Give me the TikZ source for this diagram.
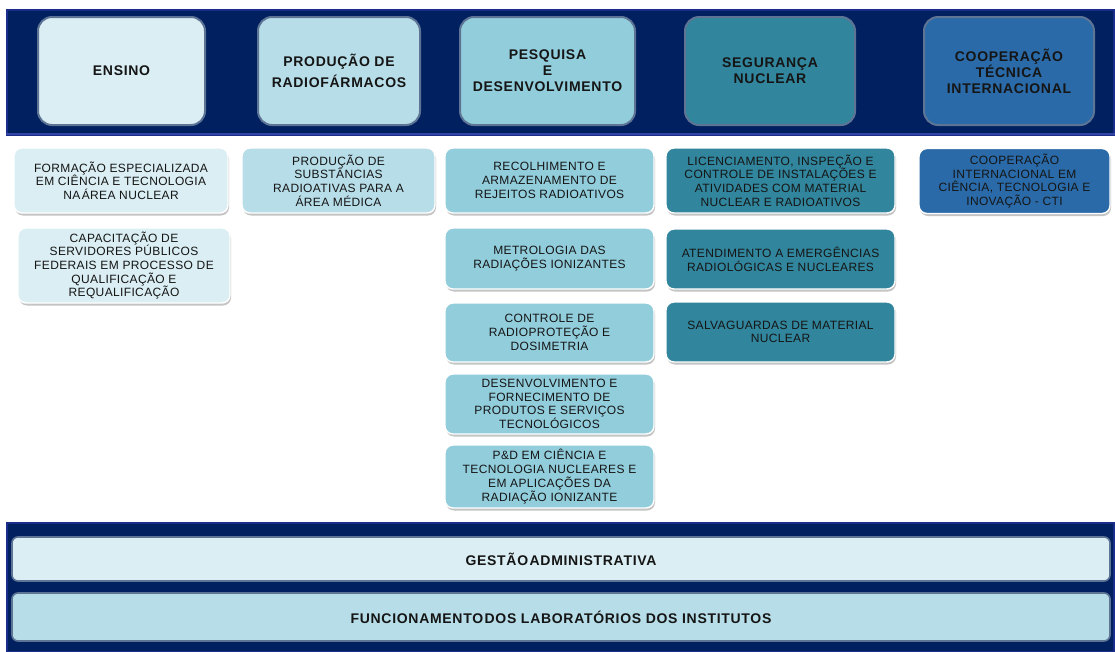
\documentclass[tikz,border=0pt]{standalone}
\usepackage{fontspec}
\setmainfont{Liberation Sans}
\newfontfamily\hfont[LetterSpace=5]{Liberation Sans}
\newfontfamily\bfont[LetterSpace=3]{Liberation Sans}
\usetikzlibrary{shadows}
\definecolor{navy}{HTML}{002060}
\definecolor{navyline}{HTML}{1A2C8C}
\definecolor{stripblue}{HTML}{3444A4}
\definecolor{cA}{HTML}{DAEEF3}
\definecolor{cB}{HTML}{B7DDE8}
\definecolor{cC}{HTML}{92CDDC}
\definecolor{cD}{HTML}{31859C}
\definecolor{cE}{HTML}{2A6AA8}
\definecolor{hdrline}{HTML}{5E7494}
\definecolor{txt}{HTML}{151515}
\definecolor{shade}{HTML}{C4C4C4}
\tikzset{
  band/.style={rectangle, fill=navy, draw=navyline, line width=1.2pt, inner sep=0pt},
  hdr/.style={rectangle, rounded corners=14pt, draw=hdrline, line width=2pt, minimum height=108pt,
    font=\hfont\bfseries\fontsize{14}{16}\selectfont, text=txt, align=center, inner sep=0pt},
  sub/.style={rectangle, rounded corners=8pt, draw=white, line width=1.4pt,
    drop shadow={shadow xshift=1pt, shadow yshift=-2.5pt, fill=shade, opacity=1},
    font=\bfont\fontsize{12}{13.7}\selectfont, text=txt, align=center, inner sep=0pt},
  base/.style={rectangle, rounded corners=6pt, draw=hdrline, line width=1.6pt, minimum width=1098pt,
    font=\hfont\bfseries\fontsize{14}{16}\selectfont, text=txt, inner sep=0pt},
  strip/.style={draw=stripblue, line width=2.5pt}
}
\begin{document}
\begin{tikzpicture}[x=1pt,y=-1pt]
\useasboundingbox (0,0) rectangle (1115,651);
\fill[white] (0,0) rectangle (1115,651);

% bands
\node[band, minimum width=1107pt, minimum height=125pt] (topband) at (560.5,72.5) {};
\draw[strip] ([yshift=1.6pt]topband.south west) -- ([yshift=1.6pt]topband.south east);
\node[band, minimum width=1107pt, minimum height=129pt] (botband) at (560.5,587.5) {};

% header boxes
\node[hdr, fill=cA, minimum width=167pt] (ensino) at (121.5,71) {ENSINO};
\node[hdr, fill=cB, minimum width=162pt] (prod) at (339,71) {PRODUÇÃO DE\\[5pt]RADIOFÁRMACOS};
\node[hdr, fill=cC, minimum width=175pt] (pesq) at (547.5,71) {PESQUISA\\E\\DESENVOLVIMENTO};
\node[hdr, fill=cD, minimum width=170pt] (seg) at (770,71) {SEGURANÇA\\NUCLEAR};
\node[hdr, fill=cE, minimum width=170pt] (coop) at (1009,71) {COOPERAÇÃO\\TÉCNICA\\INTERNACIONAL};

% column 1
\node[sub, fill=cA, minimum width=214pt, minimum height=65pt] (form) at (121,180.5)
  {FORMAÇÃO ESPECIALIZADA\\EM CIÊNCIA E TECNOLOGIA\\NA\hspace{1.5pt}ÁREA NUCLEAR};
\node[sub, fill=cA, minimum width=212pt, minimum height=75pt] (capac) at (124,265.5)
  {CAPACITAÇÃO DE\\SERVIDORES PÚBLICOS\\FEDERAIS EM PROCESSO DE\\QUALIFICAÇÃO E\\REQUALIFICAÇÃO};

% column 2
\node[sub, fill=cB, minimum width=193pt, minimum height=65pt] (subst) at (338.5,180.5)
  {PRODUÇÃO DE\\SUBSTÂNCIAS\\RADIOATIVAS PARA A\\ÁREA MÉDICA};

% column 3
\node[sub, fill=cC, minimum width=209pt, minimum height=65pt] (recol) at (549.5,180.5)
  {RECOLHIMENTO E\\ARMAZENAMENTO DE\\REJEITOS RADIOATIVOS};
\node[sub, fill=cC, minimum width=209pt, minimum height=61pt] (metro) at (549.5,258.5)
  {METROLOGIA DAS\\RADIAÇÕES IONIZANTES};
\node[sub, fill=cC, minimum width=209pt, minimum height=59pt] (contr) at (549.5,332.5)
  {CONTROLE DE\\RADIOPROTEÇÃO E\\DOSIMETRIA};
\node[sub, fill=cC, minimum width=209pt, minimum height=60pt] (desenv) at (549.5,404)
  {DESENVOLVIMENTO E\\FORNECIMENTO DE\\PRODUTOS E SERVIÇOS\\TECNOLÓGICOS};
\node[sub, fill=cC, minimum width=209pt, minimum height=63pt] (pd) at (549.5,476.5)
  {P\&D EM CIÊNCIA E\\TECNOLOGIA NUCLEARES E\\EM APLICAÇÕES DA\\RADIAÇÃO IONIZANTE};

% column 4
\node[sub, fill=cD, minimum width=229pt, minimum height=65pt] (licen) at (780.5,180.5)
  {LICENCIAMENTO, INSPEÇÃO E\\CONTROLE DE INSTALAÇÕES E\\ATIVIDADES COM MATERIAL\\NUCLEAR E RADIOATIVOS};
\node[sub, fill=cD, minimum width=229pt, minimum height=60pt] (atend) at (780.5,259)
  {ATENDIMENTO A EMERGÊNCIAS\\RADIOLÓGICAS E NUCLEARES};
\node[sub, fill=cD, minimum width=229pt, minimum height=60pt] (salva) at (780.5,332)
  {SALVAGUARDAS DE MATERIAL\\NUCLEAR};

% column 5
\node[sub, fill=cE, minimum width=191pt, minimum height=65pt] (cti) at (1014.5,181)
  {COOPERAÇÃO\\INTERNACIONAL EM\\CIÊNCIA, TECNOLOGIA E\\INOVAÇÃO - CTI};

% base boxes
\node[base, fill=cA, minimum height=44pt] (gestao) at (561,559) {GESTÃO\hspace{1.5pt}ADMINISTRATIVA};
\node[base, fill=cB, minimum height=48pt] (func) at (561,617) {FUNCIONAMENTO\hspace{1.5pt}DOS LABORATÓRIOS DOS INSTITUTOS};
\end{tikzpicture}
\end{document}
